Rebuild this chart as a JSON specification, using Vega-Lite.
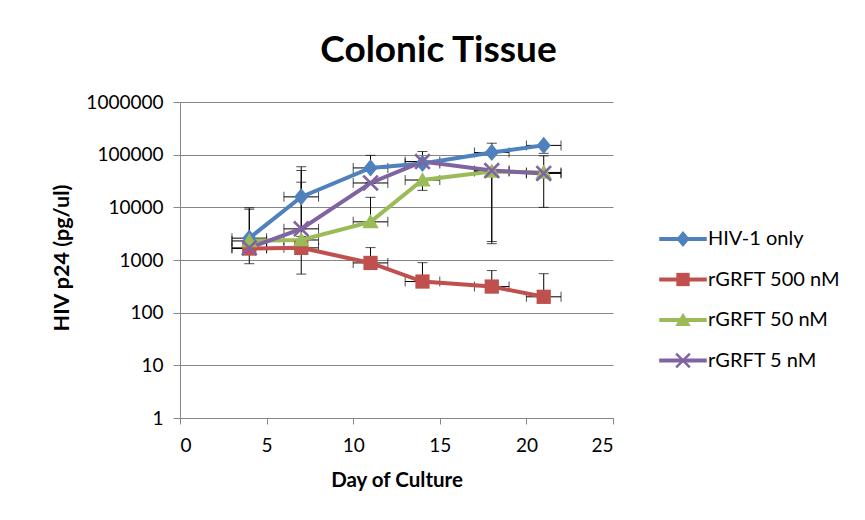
{
  "$schema": "https://vega.github.io/schema/vega-lite/v6.json",
  "width": 433,
  "height": 316,
  "autosize": {"type": "none"},
  "padding": {"left": 180, "top": 102, "right": 252, "bottom": 102},
  "background": "white",
  "title": {
    "text": "Colonic Tissue",
    "font": "Lato",
    "fontSize": 37,
    "fontWeight": "bold",
    "color": "#000000",
    "anchor": "middle",
    "dx": 42,
    "offset": 23
  },
  "data": {
    "values": [
      {"series": "HIV-1 only", "day": 4, "p24": 2600, "lo": 2600, "hi": 9800, "dlo": 3, "dhi": 5},
      {"series": "HIV-1 only", "day": 7, "p24": 15800, "lo": 15800, "hi": 59000, "dlo": 6, "dhi": 8},
      {"series": "HIV-1 only", "day": 11, "p24": 56000, "lo": 56000, "hi": 97000, "dlo": 10, "dhi": 12},
      {"series": "HIV-1 only", "day": 14, "p24": 68000, "lo": 68000, "hi": 115000, "dlo": 13, "dhi": 15},
      {"series": "HIV-1 only", "day": 18, "p24": 110000, "lo": 110000, "hi": 165000, "dlo": 17, "dhi": 19},
      {"series": "HIV-1 only", "day": 21, "p24": 150000, "lo": 106000, "hi": 150000, "dlo": 20, "dhi": 22},
      {"series": "rGRFT 500 nM", "day": 4, "p24": 1650, "lo": 850, "hi": 2200, "dlo": 3, "dhi": 5},
      {"series": "rGRFT 500 nM", "day": 7, "p24": 1700, "lo": 540, "hi": 2800, "dlo": 6, "dhi": 8},
      {"series": "rGRFT 500 nM", "day": 11, "p24": 880, "lo": 880, "hi": 1720, "dlo": 10, "dhi": 12},
      {"series": "rGRFT 500 nM", "day": 14, "p24": 390, "lo": 390, "hi": 890, "dlo": 13, "dhi": 15},
      {"series": "rGRFT 500 nM", "day": 18, "p24": 313, "lo": 313, "hi": 630, "dlo": 17, "dhi": 19},
      {"series": "rGRFT 500 nM", "day": 21, "p24": 200, "lo": 200, "hi": 550, "dlo": 20, "dhi": 22},
      {"series": "rGRFT 50 nM", "day": 4, "p24": 2300, "lo": 2300, "hi": 2300, "dlo": 3, "dhi": 5},
      {"series": "rGRFT 50 nM", "day": 7, "p24": 2400, "lo": 2400, "hi": 50000, "dlo": 6, "dhi": 8},
      {"series": "rGRFT 50 nM", "day": 11, "p24": 5300, "lo": 5300, "hi": 15500, "dlo": 10, "dhi": 12},
      {"series": "rGRFT 50 nM", "day": 14, "p24": 33000, "lo": 21000, "hi": 33000, "dlo": 13, "dhi": 15},
      {"series": "rGRFT 50 nM", "day": 18, "p24": 48000, "lo": 2240, "hi": 48000, "dlo": 17, "dhi": 19},
      {"series": "rGRFT 50 nM", "day": 21, "p24": 46000, "lo": 10000, "hi": 95000, "dlo": 20, "dhi": 22},
      {"series": "rGRFT 5 nM", "day": 4, "p24": 1700, "lo": 1700, "hi": 9200, "dlo": 3, "dhi": 5},
      {"series": "rGRFT 5 nM", "day": 7, "p24": 3900, "lo": 3900, "hi": 30000, "dlo": 6, "dhi": 8},
      {"series": "rGRFT 5 nM", "day": 11, "p24": 29000, "lo": 29000, "hi": 29000, "dlo": 10, "dhi": 12},
      {"series": "rGRFT 5 nM", "day": 14, "p24": 74000, "lo": 74000, "hi": 74000, "dlo": 13, "dhi": 15},
      {"series": "rGRFT 5 nM", "day": 18, "p24": 50000, "lo": 2040, "hi": 50000, "dlo": 17, "dhi": 19},
      {"series": "rGRFT 5 nM", "day": 21, "p24": 44000, "lo": 44000, "hi": 44000, "dlo": 20, "dhi": 22}
    ]
  },
  "resolve": {"legend": {"color": "independent", "shape": "independent"}},
  "layer": [
    {
      "mark": {"type": "rule", "color": "#000000", "strokeWidth": 1},
      "encoding": {
        "x": {"field": "day", "type": "quantitative", "title": "Day of Culture", "scale": {"domain": [0, 25], "nice": false}},
        "y": {"field": "lo", "type": "quantitative", "title": "HIV p24 (pg/ul)", "scale": {"type": "log", "domain": [1, 1000000], "nice": false}},
        "y2": {"field": "hi"}
      }
    },
    {
      "mark": {"type": "tick", "orient": "horizontal", "color": "#000000", "size": 10, "thickness": 1},
      "encoding": {
        "x": {"field": "day", "type": "quantitative", "title": "Day of Culture", "scale": {"domain": [0, 25], "nice": false}},
        "y": {"field": "hi", "type": "quantitative", "title": "HIV p24 (pg/ul)", "scale": {"type": "log", "domain": [1, 1000000], "nice": false}}
      }
    },
    {
      "mark": {"type": "tick", "orient": "horizontal", "color": "#000000", "size": 10, "thickness": 1},
      "encoding": {
        "x": {"field": "day", "type": "quantitative", "title": "Day of Culture", "scale": {"domain": [0, 25], "nice": false}},
        "y": {"field": "lo", "type": "quantitative", "title": "HIV p24 (pg/ul)", "scale": {"type": "log", "domain": [1, 1000000], "nice": false}}
      }
    },
    {
      "mark": {"type": "rule", "color": "#000000", "strokeWidth": 1},
      "encoding": {
        "x": {"field": "dlo", "type": "quantitative", "title": "Day of Culture", "scale": {"domain": [0, 25], "nice": false}},
        "x2": {"field": "dhi"},
        "y": {"field": "p24", "type": "quantitative", "title": "HIV p24 (pg/ul)", "scale": {"type": "log", "domain": [1, 1000000], "nice": false}}
      }
    },
    {
      "mark": {"type": "tick", "orient": "vertical", "color": "#000000", "size": 10, "thickness": 1},
      "encoding": {
        "x": {"field": "dlo", "type": "quantitative", "title": "Day of Culture", "scale": {"domain": [0, 25], "nice": false}},
        "y": {"field": "p24", "type": "quantitative", "title": "HIV p24 (pg/ul)", "scale": {"type": "log", "domain": [1, 1000000], "nice": false}}
      }
    },
    {
      "mark": {"type": "tick", "orient": "vertical", "color": "#000000", "size": 10, "thickness": 1},
      "encoding": {
        "x": {"field": "dhi", "type": "quantitative", "title": "Day of Culture", "scale": {"domain": [0, 25], "nice": false}},
        "y": {"field": "p24", "type": "quantitative", "title": "HIV p24 (pg/ul)", "scale": {"type": "log", "domain": [1, 1000000], "nice": false}}
      }
    },
    {
      "mark": {"type": "line", "strokeWidth": 4},
      "encoding": {
        "x": {
          "field": "day",
          "type": "quantitative",
          "title": "Day of Culture",
          "scale": {"domain": [0, 25], "nice": false},
          "axis": {
            "values": [0, 5, 10, 15, 20, 25],
            "grid": false,
            "tickSize": 6,
            "labelPadding": 12,
            "titleY": 52
          }
        },
        "y": {
          "field": "p24",
          "type": "quantitative",
          "title": "HIV p24 (pg/ul)",
          "scale": {"type": "log", "domain": [1, 1000000], "nice": false},
          "axis": {
            "values": [1, 10, 100, 1000, 10000, 100000, 1000000],
            "format": "d",
            "grid": true,
            "tickSize": 7,
            "labelPadding": 10,
            "titleFontSize": 21.5,
            "titleX": -107,
            "titleY": 155.5
          }
        },
        "color": {
          "field": "series",
          "type": "nominal",
          "scale": {
            "domain": ["HIV-1 only", "rGRFT 500 nM", "rGRFT 50 nM", "rGRFT 5 nM"],
            "range": ["#4F81BD", "#C0504D", "#9BBB59", "#8064A2"]
          },
          "legend": {
            "title": null,
            "orient": "none",
            "legendX": 493,
            "legendY": 127,
            "padding": 0,
            "labelFont": "Lato",
            "labelFontSize": 20,
            "labelColor": "#000000",
            "symbolType": "M-3.4,0L3.4,0",
            "symbolSize": 196,
            "symbolStrokeWidth": 4,
            "rowPadding": 20.5,
            "labelOffset": 15
          }
        }
      }
    },
    {
      "mark": {"type": "point", "filled": true, "opacity": 1, "size": 225, "strokeWidth": 0},
      "encoding": {
        "x": {"field": "day", "type": "quantitative", "title": "Day of Culture", "scale": {"domain": [0, 25], "nice": false}},
        "y": {"field": "p24", "type": "quantitative", "title": "HIV p24 (pg/ul)", "scale": {"type": "log", "domain": [1, 1000000], "nice": false}},
        "color": {
          "field": "series",
          "type": "nominal",
          "scale": {
            "domain": ["HIV-1 only", "rGRFT 500 nM", "rGRFT 50 nM", "rGRFT 5 nM"],
            "range": ["#4F81BD", "#C0504D", "#9BBB59", "#8064A2"]
          },
          "legend": {
            "title": null,
            "orient": "none",
            "legendX": 493,
            "legendY": 127,
            "padding": 0,
            "labelFont": "Lato",
            "labelFontSize": 20,
            "labelExpr": "' '",
            "symbolSize": 196,
            "symbolStrokeWidth": 0,
            "rowPadding": 20.5,
            "labelOffset": 15
          }
        },
        "shape": {
          "field": "series",
          "type": "nominal",
          "scale": {
            "domain": ["HIV-1 only", "rGRFT 500 nM", "rGRFT 50 nM", "rGRFT 5 nM"],
            "range": [
              "M0,-1.15L0.95,0L0,1.15L-0.95,0Z",
              "M-0.95,-0.95L0.95,-0.95L0.95,0.95L-0.95,0.95Z",
              "M0,-1.05L1.1,0.85L-1.1,0.85Z",
              "M-1.1,-0.85L-0.85,-1.1L0,-0.25L0.85,-1.1L1.1,-0.85L0.25,0L1.1,0.85L0.85,1.1L0,0.25L-0.85,1.1L-1.1,0.85L-0.25,0Z"
            ]
          },
          "legend": {
            "title": null,
            "orient": "none",
            "legendX": 493,
            "legendY": 127,
            "padding": 0,
            "labelFont": "Lato",
            "labelFontSize": 20,
            "labelExpr": "' '",
            "symbolSize": 196,
            "symbolStrokeWidth": 0,
            "rowPadding": 20.5,
            "labelOffset": 15
          }
        }
      }
    }
  ],
  "config": {
    "view": {"stroke": null},
    "font": "Lato",
    "axis": {
      "labelFont": "Lato",
      "labelFontSize": 19,
      "labelColor": "#000000",
      "titleFont": "Lato",
      "titleFontSize": 20.5,
      "titleFontWeight": "bold",
      "titleColor": "#000000",
      "domainColor": "#868686",
      "tickColor": "#868686",
      "gridColor": "#868686",
      "gridOpacity": 1,
      "domainWidth": 1,
      "tickWidth": 1,
      "gridWidth": 1
    }
  }
}
